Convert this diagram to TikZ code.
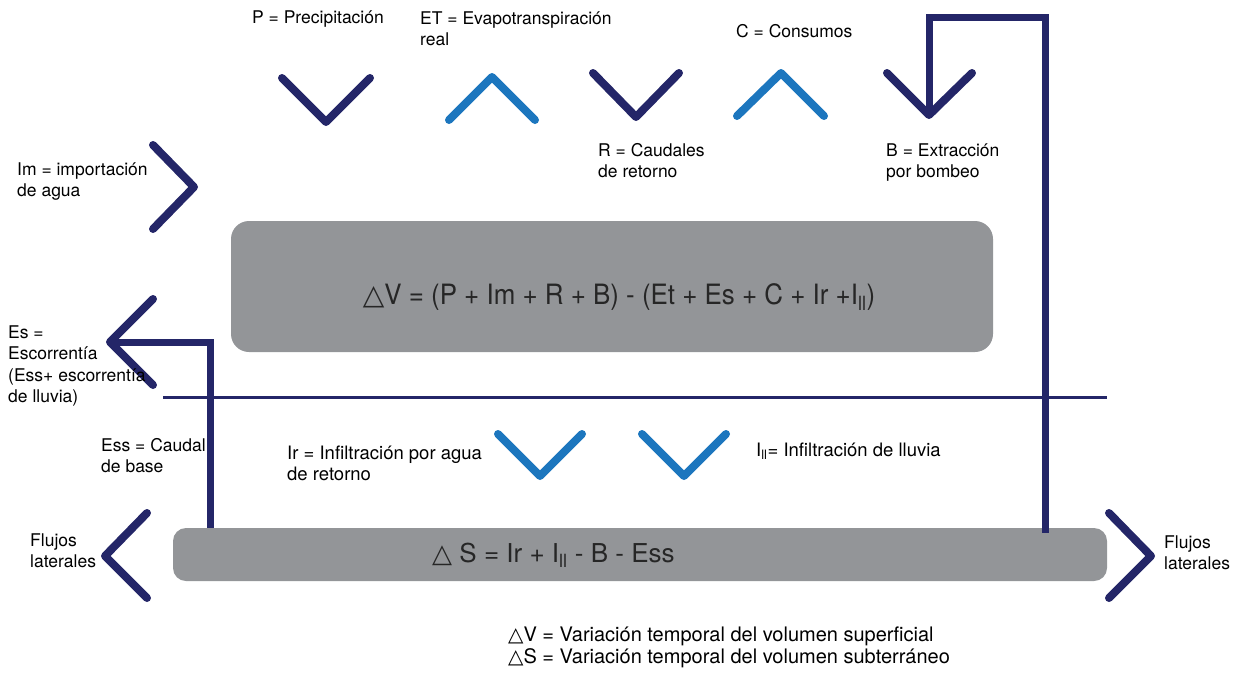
\documentclass[tikz,border=0pt]{standalone}
\usepackage{fontspec}
\setmainfont{TeX Gyre Heros}
\newfontfamily\condfont[FakeStretch=0.925]{TeX Gyre Heros}
\newfontfamily\symfont{DejaVu Sans}
\usetikzlibrary{positioning}

\begin{document}
\begin{tikzpicture}[x=1pt,y=-1pt,
    lbl/.style={anchor=base west,inner sep=0pt,align=left,font=\fontsize{17.5}{21.5}\selectfont},
    eqn/.style={inner sep=0pt,text=black!85},
    chev/.style={line width=8pt,line cap=round,line join=round},
    flow/.style={line width=7pt,navy,line join=miter}]
  \definecolor{navy}{RGB}{36,38,104}
  \definecolor{sky}{RGB}{28,118,190}
  \definecolor{boxgray}{RGB}{147,149,152}

  \useasboundingbox (0,0) rectangle (1246,675);

  % compartments
  \node[fill=boxgray,rounded corners=18pt,minimum width=762pt,minimum height=131pt,inner sep=0pt] (surf) at (612,286.5) {};
  \node[fill=boxgray,rounded corners=13pt,minimum width=934pt,minimum height=53pt,inner sep=0pt] (aqui) at (640,554.5) {};
  \node[eqn,font=\condfont\fontsize{28}{30}\selectfont] (eqV) at (619,297) {{\symfont △}V = (P + Im + R + B) - (Et + Es + C + Ir +I\textsubscript{ll})};
  \node[eqn,font=\fontsize{26}{28}\selectfont,anchor=west] (eqS) at (432,555) {{\symfont △} S = Ir + I\textsubscript{ll} - B - Ess};

  % ground line
  \draw[navy,line width=3pt] (163,397) -- (1107,397);

  % inputs and outputs on top
  \draw[chev,navy] (282,78) -- (326,122) -- (370,78);
  \draw[chev,sky] (449,120) -- (492,77) -- (535,120);
  \draw[chev,navy] (593,73) -- (636,117) -- (679,73);
  \draw[chev,sky] (737,116) -- (781,73) -- (824,116);
  \draw[chev,navy] (887,73) -- (929,115) -- (972,73);
  \draw[chev,navy] (153,145) -- (194,187) -- (153,229);
  \draw[chev,navy] (153,299) -- (110,342) -- (153,385);

  % pumping and base flow
  \coordinate (Btip) at (929,115);
  \coordinate (Etip) at (112,342);
  \draw[flow] (Btip) -- (929,17) -- (1045,17) -- (1045,533);
  \draw[flow] (Etip) -- (210,342) -- (210,528);

  % infiltration
  \draw[chev,sky] (498,434) -- (540,476) -- (582,434);
  \draw[chev,sky] (642,434) -- (684,476) -- (726,434);

  % lateral flows
  \draw[chev,navy] (147,513) -- (105,556) -- (147,598);
  \draw[chev,navy] (1109,513) -- (1151,556) -- (1109,598);

  % labels (base = last line)
  \node[lbl] (lP) at (252,23) {P = Precipitación};
  \node[lbl] (lET) at (420,45.5) {ET = Evapotranspiración\\real};
  \node[lbl] (lC) at (736,37) {C = Consumos};
  \node[lbl] (lR) at (598,177.5) {R = Caudales\\de retorno};
  \node[lbl] (lB) at (886,177.5) {B = Extracción\\por bombeo};
  \node[lbl] (lIm) at (17,196.5) {Im = importación\\de agua};
  \node[lbl] (lEs) at (8,402.5) {Es =\\Escorrentía\\(Ess+ escorrentía\\de lluvia)};
  \node[lbl] (lEss) at (101,472.5) {Ess = Caudal\\de base};
  \node[lbl,font=\fontsize{18.5}{21.5}\selectfont] (lIr) at (287,480.5) {Ir = Infiltración por agua\\de retorno};
  \node[lbl,font=\fontsize{18.5}{21.5}\selectfont] (lIll) at (756,456) {I\textsubscript{ll}= Infiltración de lluvia};
  \node[lbl] (lFl) at (30,567.5) {Flujos\\laterales};
  \node[lbl] (lFr) at (1164,569.5) {Flujos\\laterales};
  \node[lbl,font=\fontsize{20}{22}\selectfont] (legV) at (508,641) {{\symfont △}V = Variación temporal del volumen superficial};
  \node[lbl,font=\fontsize{20}{22}\selectfont] (legS) at (508,663) {{\symfont △}S = Variación temporal del volumen subterráneo};
\end{tikzpicture}
\end{document}
